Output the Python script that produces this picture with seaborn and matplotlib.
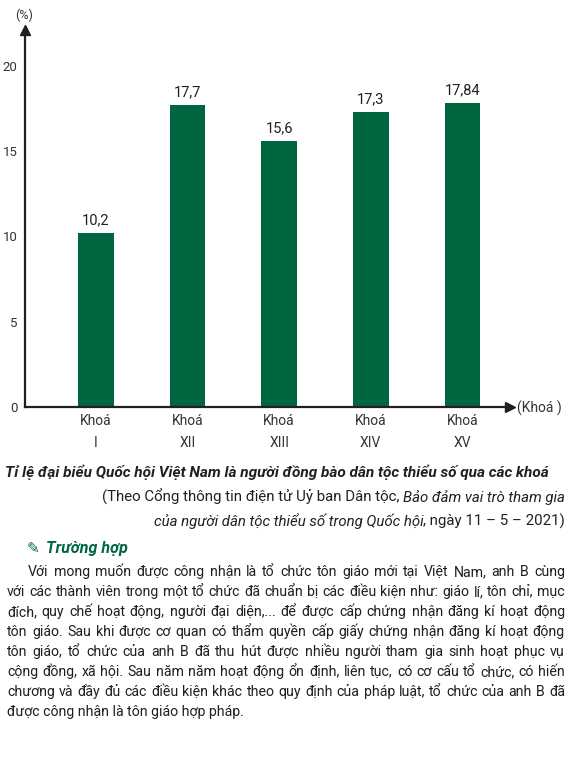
import matplotlib
matplotlib.use("Agg")
import matplotlib.pyplot as plt
import seaborn as sns

# data
khoa_labels = ["Khoá\nI", "Khoá\nXII", "Khoá\nXIII", "Khoá\nXIV", "Khoá\nXV"]
ty_le = [10.2, 17.7, 15.6, 17.3, 17.84]
ty_le_text = ["10,2", "17,7", "15,6", "17,3", "17,84"]
y_ticks = [0, 5, 10, 15, 20]

caption = "Tỉ lệ đại biểu Quốc hội Việt Nam là người đồng bào dân tộc thiểu số qua các khoá"
source_1 = [("(Theo Cổng thông tin điện tử Uỷ ban Dân tộc, ", "normal"),
            ("Bảo đảm vai trò tham gia", "italic")]
source_2 = [("của người dân tộc thiểu số trong Quốc hội", "italic"),
            (", ngày 11 – 5 – 2021)", "normal")]
heading = "Trường hợp"
paragraph = [
    "Với mong muốn được công nhận là tổ chức tôn giáo mới tại Việt Nam, anh B cùng",
    "với các thành viên trong một tổ chức đã chuẩn bị các điều kiện như: giáo lí, tôn chỉ, mục",
    "đích, quy chế hoạt động, người đại diện,... để được cấp chứng nhận đăng kí hoạt động",
    "tôn giáo. Sau khi được cơ quan có thẩm quyền cấp giấy chứng nhận đăng kí hoạt động",
    "tôn giáo, tổ chức của anh B đã thu hút được nhiều người tham gia sinh hoạt phục vụ",
    "cộng đồng, xã hội. Sau năm năm hoạt động ổn định, liên tục, có cơ cấu tổ chức, có hiến",
    "chương và đầy đủ các điều kiện khác theo quy định của pháp luật, tổ chức của anh B đã",
    "được công nhận là tôn giáo hợp pháp.",
]

W, H = 578, 758
GREEN = "#00663f"
INK = "#231f20"

sns.set_style("white")
plt.rcParams["font.family"] = ["Roboto", "DejaVu Sans"]

fig = plt.figure(figsize=(W / 100, H / 100), dpi=100)
renderer = fig.canvas.get_renderer()


def fx(x):
    return x / W


def fy(y):
    return 1 - y / H


def text_width(s, **kw):
    t = fig.text(0, 0, s, **kw)
    w = t.get_window_extent(renderer).width
    t.remove()
    return w


# ---- bar chart ----
ax = fig.add_axes([fx(25), fy(407), 485 / W, 377 / H])
sns.barplot(x=khoa_labels, y=ty_le, color=GREEN, width=0.39, saturation=1,
            linewidth=0, ax=ax)
ax.set_xlim(-0.775, 4.52)
ax.set_ylim(0, 22.1)
for s in ["top", "right"]:
    ax.spines[s].set_visible(False)
for s in ["left", "bottom"]:
    ax.spines[s].set_linewidth(1.6)
    ax.spines[s].set_color(INK)
ax.set_yticks(y_ticks)
ax.set_yticklabels([str(v) for v in y_ticks])
ax.tick_params(axis="y", direction="inout", length=9, width=1.6, color=INK,
               labelsize=9.5, labelcolor="#333333", pad=1)
ax.yaxis.get_major_ticks()[0].tick1line.set_visible(False)
ax.tick_params(axis="x", direction="out", length=4, width=1.2, color=INK,
               labelsize=10, labelcolor="#333333", pad=1)
for lab in ax.get_xticklabels():
    lab.set_linespacing(1.75)
ax.set_xlabel("")
ax.set_ylabel("")
ax.grid(False)

for bar, txt in zip(ax.patches, ty_le_text):
    ax.annotate(txt, (bar.get_x() + bar.get_width() / 2, bar.get_height()),
                xytext=(0, 4), textcoords="offset points", ha="center",
                va="bottom", fontsize=10.5, color=INK)

# arrows at the end of the axes
ax.plot(0, 1, marker="^", ms=7, color=INK, transform=ax.transAxes, clip_on=False)
ax.plot(1, 0, marker=">", ms=7, color=INK, transform=ax.transAxes, clip_on=False)
fig.text(fx(24), fy(15), "(%)", ha="center", va="center", fontsize=9, color="#333333")
fig.text(fx(517), fy(408), "(Khoá )", ha="left", va="center", fontsize=10, color="#333333")

# ---- caption ----
cap_w = text_width(caption, fontsize=10, weight="bold", style="italic")
cap_size = 10 * 544 / cap_w
fig.text(fx(5), fy(477), caption, ha="left", va="baseline", fontsize=cap_size,
         weight="bold", style="italic", color=INK)

src_size = 10.8
for parts, base in [(source_1, 502), (source_2, 526)]:
    x = 565
    for s, st in reversed(parts):
        fig.text(fx(x), fy(base), s, ha="right", va="baseline", fontsize=src_size,
                 style=st, color=INK)
        x -= text_width(s, fontsize=src_size, style=st)

# ---- heading ----
fig.text(fx(27), fy(553), "✎", ha="left", va="baseline", fontsize=11,
         color=GREEN, family=["DejaVu Sans"])
fig.text(fx(46), fy(553), heading, ha="left", va="baseline", fontsize=11.5,
         weight="bold", style="italic", color=GREEN)

# ---- justified paragraph ----
starts = [28] + [7] * (len(paragraph) - 1)
right = 565
base = 10
scale = min((right - x0) / text_width(line, fontsize=base)
            for x0, line in zip(starts[:-1], paragraph[:-1]))
para_size = base * scale * 0.98

for i, (x0, line) in enumerate(zip(starts, paragraph)):
    y = 576 + 20 * i
    words = line.split(" ")
    if i == len(paragraph) - 1:
        fig.text(fx(x0), fy(y), line, ha="left", va="baseline",
                 fontsize=para_size, color=INK)
        continue
    widths = [text_width(w, fontsize=para_size) for w in words]
    gap = (right - x0 - sum(widths)) / (len(words) - 1)
    x = x0
    for w, wd in zip(words, widths):
        fig.text(fx(x), fy(y), w, ha="left", va="baseline", fontsize=para_size, color=INK)
        x += wd + gap

fig.savefig("out.png", dpi=100)
